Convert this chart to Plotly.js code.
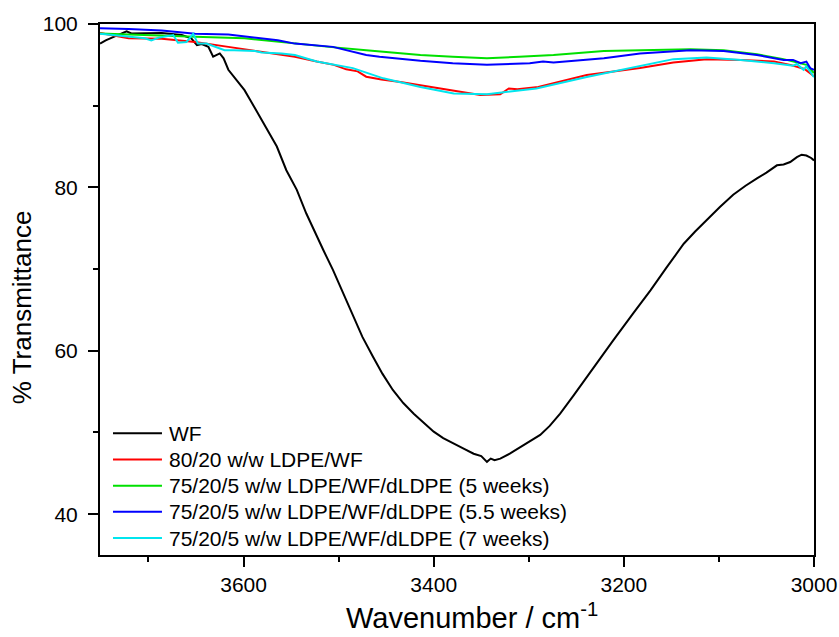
<!DOCTYPE html>
<html>
<head>
<meta charset="utf-8">
<script src="https://cdn.plot.ly/plotly-3.0.1.min.js"></script>
<style>html,body{margin:0;padding:0;background:#fff;}#chart{width:839px;height:637px;}</style>
</head>
<body>
<div id="chart"></div>
<script>
const seriesNames = ["WF", "80/20 w/w LDPE/WF", "75/20/5 w/w LDPE/WF/dLDPE (5 weeks)", "75/20/5 w/w LDPE/WF/dLDPE (5.5 weeks)", "75/20/5 w/w LDPE/WF/dLDPE (7 weeks)"];
const seriesColors = ["#000000", "#ff0000", "#00e000", "#0000ff", "#00e5ee"];

const wfX = [3751,3745,3736,3728,3723,3718,3704,3686,3665,3655,3649,3644,3637,3632,3625,3621,3616,3606,3599,3593,3581,3573,3565,3555,3544,3534,3523,3516,3506,3495,3485,3475,3464,3454,3443,3432,3421,3410,3400,3390,3379,3368,3358,3350,3344,3340,3336,3330,3320,3309,3298,3288,3278,3267,3253,3239,3225,3211,3190,3172,3155,3137,3125,3113,3099,3085,3072,3060,3050,3039,3032,3025,3018,3013,3008,3003,3000];
const wfY = [97.6,98.0,98.45,98.85,99.1,98.85,98.9,98.9,98.65,98.25,97.4,97.55,97.2,96.0,96.4,95.8,94.4,92.9,91.9,90.7,88.2,86.7,85.0,82.1,79.7,76.8,74.0,72.3,69.9,67.0,64.2,61.7,59.3,57.2,55.2,53.6,52.3,51.1,50.1,49.3,48.7,48.0,47.4,47.1,46.4,46.8,46.6,46.8,47.4,48.2,48.9,49.7,50.8,52.3,54.5,56.8,59.0,61.3,64.6,67.4,70.2,73.1,74.6,76.0,77.6,79.1,80.2,81.1,81.8,82.7,82.8,83.1,83.7,84.0,83.9,83.6,83.3];

const redX = [3751,3721,3686,3651,3616,3581,3546,3523,3505,3492,3480,3471,3455,3435,3414,3380,3351,3330,3321,3312,3290,3239,3200,3183,3148,3113,3077,3042,3025,3018,3010,3000];
const redY = [98.9,98.25,98.2,97.8,97.2,96.6,96.0,95.4,95.0,94.45,94.2,93.55,93.2,92.9,92.5,91.8,91.3,91.4,92.1,92.0,92.3,93.75,94.4,94.6,95.3,95.7,95.6,95.4,95.0,94.8,94.5,93.6];

const greenX = [3751,3686,3651,3599,3546,3510,3471,3440,3414,3380,3344,3310,3274,3221,3183,3130,3095,3060,3032,3018,3008,3000];
const greenY = [98.85,98.65,98.45,98.25,97.6,97.2,96.8,96.5,96.2,96.0,95.8,96.0,96.2,96.7,96.8,96.9,96.8,96.3,95.7,95.3,95.0,94.0];

const blueX = [3751,3721,3686,3651,3616,3599,3564,3546,3520,3506,3471,3457,3414,3380,3344,3299,3285,3274,3221,3183,3130,3095,3060,3032,3022,3014,3008,3004,3000];
const blueY = [99.47,99.4,99.2,98.8,98.7,98.5,98.0,97.6,97.3,97.2,96.2,96.0,95.5,95.2,95.0,95.2,95.4,95.3,95.8,96.4,96.8,96.7,96.2,95.6,95.6,95.2,95.4,94.6,94.4];

const cyanX = [3751,3721,3704,3697,3690,3681,3674,3669,3660,3653,3648,3639,3634,3620,3610,3588,3581,3560,3546,3523,3485,3453,3414,3379,3344,3320,3292,3239,3183,3148,3113,3077,3042,3022,3018,3011,3008,3000];
const cyanY = [98.8,98.5,98.25,98.0,98.3,98.5,98.65,97.7,97.8,98.8,97.6,97.6,97.4,96.8,96.8,96.7,96.5,96.4,96.2,95.4,94.6,93.35,92.3,91.5,91.4,91.7,92.1,93.5,94.8,95.7,95.9,95.6,95.2,94.9,95.1,94.4,94.8,93.5];

const xs = [wfX, redX, greenX, blueX, cyanX];
const ys = [wfY, redY, greenY, blueY, cyanY];

const traces = xs.map((x, i) => ({
  x: x, y: ys[i], type: 'scatter', mode: 'lines', name: seriesNames[i],
  line: {color: seriesColors[i], width: 2}, showlegend: false
}));

const font = "Arial, 'Liberation Sans', sans-serif";

// Legend drawn in the lower-left corner of the plot area (paper coordinates)
const legendShapes = [];
const legendTexts = [];
const legTop = 0.2292, legStep = 0.0493;
seriesNames.forEach((name, i) => {
  const yy = legTop - i * legStep;
  legendShapes.push({type: 'line', xref: 'paper', yref: 'paper', x0: 0.0182, x1: 0.0868, y0: yy, y1: yy,
    line: {color: seriesColors[i], width: 2}});
  legendTexts.push({xref: 'paper', yref: 'paper', x: 0.0938, y: yy, xanchor: 'left', yanchor: 'middle',
    text: name, showarrow: false, font: {size: 21, family: font, color: '#000'}});
});

const titleAnnotations = [
  {xref: 'paper', yref: 'paper', x: 0.521, y: -0.115, xanchor: 'center', yanchor: 'middle', showarrow: false,
   text: 'Wavenumber / cm<sup>-1</sup>', font: {size: 29, family: font, color: '#000'}},
  {xref: 'paper', yref: 'paper', x: -0.109, y: 0.467, xanchor: 'center', yanchor: 'middle', showarrow: false,
   textangle: -90, text: '% Transmittance', font: {size: 26, family: font, color: '#000'}}
];

const layout = {
  width: 839, height: 637,
  margin: {l: 100, r: 25, t: 24, b: 82},
  paper_bgcolor: '#fff', plot_bgcolor: '#fff',
  font: {family: font, color: '#000', size: 21},
  showlegend: false,
  shapes: legendShapes,
  annotations: legendTexts.concat(titleAnnotations),
  xaxis: {
    range: [3751, 3000], tick0: 3000, dtick: 200, showgrid: false, zeroline: false,
    showline: true, linecolor: '#000', linewidth: 2, mirror: true,
    ticks: 'outside', ticklen: 10, tickwidth: 2, tickcolor: '#000',
    tickfont: {size: 21, family: font},
    minor: {ticks: 'outside', ticklen: 5, tickwidth: 2, tickcolor: '#000', dtick: 100, tick0: 3000, showgrid: false}
  },
  yaxis: {
    range: [35, 100], tick0: 0, dtick: 20, showgrid: false, zeroline: false,
    showline: true, linecolor: '#000', linewidth: 2, mirror: true,
    ticks: 'outside', ticklen: 10, tickwidth: 2, tickcolor: '#000', ticklabelstandoff: 6,
    tickfont: {size: 21, family: font},
    minor: {ticks: 'outside', ticklen: 5, tickwidth: 2, tickcolor: '#000', dtick: 10, tick0: 0, showgrid: false}
  }
};

Plotly.newPlot('chart', traces, layout, {displayModeBar: false, staticPlot: true});
</script>
</body>
</html>
